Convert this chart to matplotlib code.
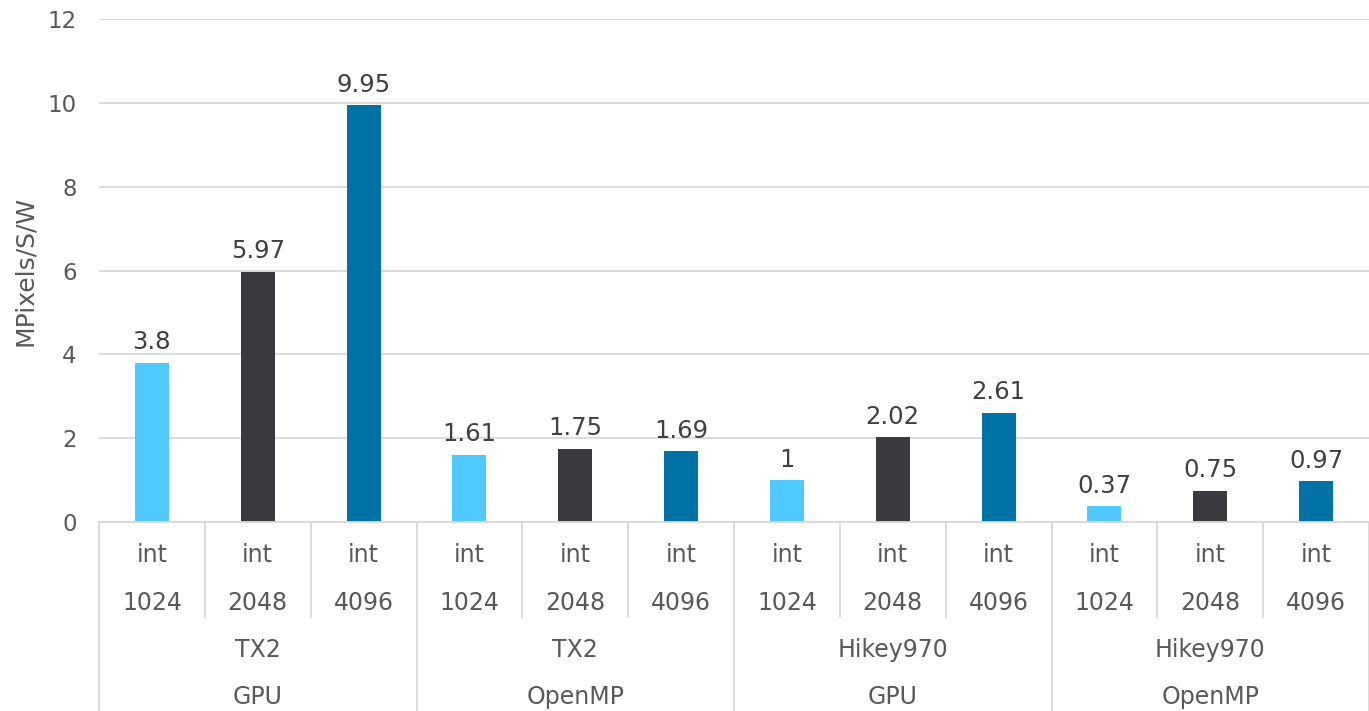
import matplotlib
matplotlib.use("Agg")
import matplotlib.pyplot as plt
from matplotlib.lines import Line2D
import matplotlib.transforms as mtransforms

plt.rcParams["font.family"] = ["DejaVu Sans"]

values = [3.8, 5.97, 9.95, 1.61, 1.75, 1.69, 1.0, 2.02, 2.61, 0.37, 0.75, 0.97]
value_labels = ["3.8", "5.97", "9.95", "1.61", "1.75", "1.69", "1", "2.02", "2.61", "0.37", "0.75", "0.97"]
level1 = ["int"] * 12
level2 = ["1024", "2048", "4096"] * 4
level3 = ["TX2", "TX2", "Hikey970", "Hikey970"]
level4 = ["GPU", "OpenMP", "GPU", "OpenMP"]
bar_colors = ["#4FC9FF", "#3A3B3F", "#0072A6"] * 4
ylabel = "MPixels/S/W"
yticks = [0, 2, 4, 6, 8, 10, 12]

FS = 16.5
CFS = 17
W, H = 1369, 711
fig = plt.figure(figsize=(W / 100, H / 100), dpi=100)
left_px, right_px, top_px, bottom_px = 99, 1369, 19, 522
ax = fig.add_axes([left_px / W, 1 - bottom_px / H, (right_px - left_px) / W, (bottom_px - top_px) / H])

x = list(range(len(values)))
ax.bar(x, values, width=0.32, color=bar_colors, zorder=3)
ax.set_xlim(-0.5, len(values) - 0.5)
ax.set_ylim(0, 12)
ax.set_yticks(yticks)
ax.set_yticklabels([str(t) for t in yticks], fontsize=FS, color="#595959")
ax.tick_params(axis="y", length=0, pad=16)
ax.tick_params(axis="x", length=0, labelbottom=False)
ax.grid(axis="y", color="#D9D9D9", linewidth=1.3, zorder=0)
for s in ["top", "right", "left"]:
    ax.spines[s].set_visible(False)
ax.spines["bottom"].set_color("#D9D9D9")
ax.spines["bottom"].set_linewidth(1.3)
ax.spines["bottom"].set_zorder(4)

for xi, v, lab in zip(x, values, value_labels):
    ax.annotate(lab, (xi, v), xytext=(0, 6), textcoords="offset points",
                ha="center", va="bottom", fontsize=FS + 1, color="#404040")

fig.text(25 / W, 1 - (top_px + bottom_px) / 2 / H, ylabel, rotation=90, ha="center", va="center",
         fontsize=18, color="#595959")

# multi-level category axis
trans = mtransforms.blended_transform_factory(ax.transData, fig.transFigure)
def fy(py):
    return 1 - py / H

for xi in x:
    ax.text(xi, fy(555), level1[xi], transform=trans, ha="center", va="center", fontsize=CFS, color="#595959")
    ax.text(xi, fy(603), level2[xi], transform=trans, ha="center", va="center", fontsize=CFS, color="#595959")
for g in range(4):
    cx = g * 3 + 1
    ax.text(cx, fy(650), level3[g], transform=trans, ha="center", va="center", fontsize=CFS, color="#595959")
    ax.text(cx, fy(697), level4[g], transform=trans, ha="center", va="center", fontsize=CFS, color="#595959")

for b in range(len(values) + 1):
    xb = b - 0.5
    if b % 3 == 0:
        y0, y1 = fy(522), fy(711)
    else:
        y0, y1 = fy(522), fy(617)
    ax.add_line(Line2D([xb, xb], [y0, y1], transform=trans, color="#D9D9D9", linewidth=1.3, clip_on=False))

fig.savefig("out.png", dpi=100)
